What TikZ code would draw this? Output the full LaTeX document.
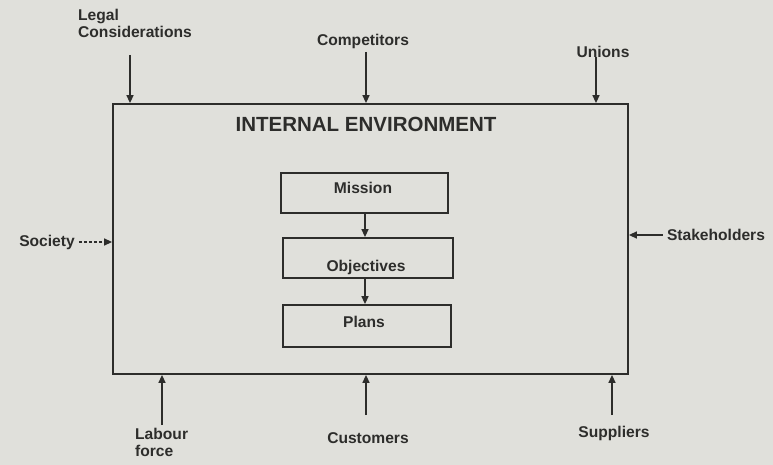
\documentclass[tikz,border=0pt]{standalone}
\usepackage{fontspec}
\setmainfont{Liberation Sans}
\usetikzlibrary{arrows.meta}
\definecolor{paper}{RGB}{224,224,219}
\definecolor{ink}{RGB}{45,45,43}
\tikzset{
  x=1pt, y=-1pt,
  lbl/.style={text=ink, font=\fontsize{15.6}{17}\selectfont\bfseries, inner sep=0pt},
  boxline/.style={draw=ink, line width=1.8pt, inner sep=0pt},
  flow/.style={draw=ink, line width=1.5pt, -{Triangle[length=8pt,width=7pt]}},
}
\begin{document}
\begin{tikzpicture}
% page
\fill[paper] (0,0) rectangle (773,465);
\useasboundingbox (0,0) rectangle (773,465);

% internal environment and its three stages
\node[boxline, minimum width=515, minimum height=270] (env) at (370.5,239) {};
\node[lbl, font=\fontsize{20.5}{22}\selectfont\bfseries] (envT) at (366,124) {INTERNAL ENVIRONMENT};

\node[boxline, minimum width=167, minimum height=40] (mission) at (364.5,193) {};
\node[lbl] (missionT) at (363,188) {Mission};
\node[boxline, minimum width=170, minimum height=40] (objectives) at (368,258) {};
\node[lbl] (objectivesT) at (366,267) {Objectives};
\node[boxline, minimum width=168, minimum height=42] (plans) at (367,326) {};
\node[lbl] (plansT) at (364,322) {Plans};

\draw[flow] (mission.south -| objectives.north) ++(-3,0) coordinate (m1) -- (m1 |- objectives.north);
\draw[flow] (objectives.south) ++(-3,0) coordinate (o1) -- (o1 |- plans.north);

% outside forces
\node[lbl, align=left, anchor=west] (legal) at (78,23) {Legal\\Considerations};
\node[lbl] (comp) at (363,41) {Competitors};
\node[lbl] (unions) at (603,52) {Unions};
\node[lbl] (society) at (47,242) {Society};
\node[lbl] (stake) at (716,235) {Stakeholders};
\node[lbl, align=left, anchor=north west] (labour) at (135,428) {Labour\\force};
\node[lbl] (cust) at (368,438) {Customers};
\node[lbl] (supp) at (614,433) {Suppliers};

\coordinate (legalTail) at (130,55);
\coordinate (compTail) at (366,52);
\coordinate (unionsTail) at (596,57);
\coordinate (labourTail) at (162,425);
\coordinate (custTail) at (366,415);
\coordinate (suppTail) at (612,415);

\draw[flow] (legalTail) -- (legalTail |- env.north);
\draw[flow] (compTail) -- (compTail |- env.north);
\draw[flow] (unionsTail) -- (unionsTail |- env.north);
\draw[flow, line width=1.3pt, dash pattern=on 3pt off 2pt] (society.east) ++(4,0) -- (env.west |- society.east);
\draw[flow] (stake.west) ++(-4,0) -- (env.east |- stake.west);
\draw[flow] (labourTail) -- (labourTail |- env.south);
\draw[flow] (custTail) -- (custTail |- env.south);
\draw[flow] (suppTail) -- (suppTail |- env.south);
\end{tikzpicture}
\end{document}
